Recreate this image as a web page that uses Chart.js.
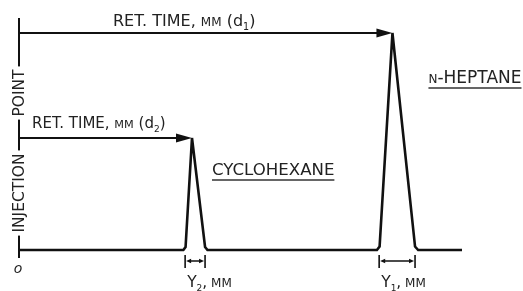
<!DOCTYPE html>
<html>
<head>
<meta charset="utf-8">
<script src="https://cdn.jsdelivr.net/npm/chart.js@4/dist/chart.umd.min.js"></script>
<style>
html,body{margin:0;padding:0;background:#fff;}
#c{display:block;}
</style>
</head>
<body>
<canvas id="c" width="523" height="291"></canvas>
<script>
// ---- data (x: chart length units, y: detector response, % of tallest peak) ----
const peakNames = ['CYCLOHEXANE', 'N-HEPTANE'];
const retentionTime = [39.05, 84.3];   // apex positions (d2, d1)
const peakHeight = [51.6, 100];
const peakStart = [37.5, 81.3];        // base width marker, left
const peakEnd = [42.0, 89.4];          // base width marker, right
const retLabels = ['d2', 'd1'];
const widthLabels = ['2', '1'];
const traceX = [0, 37.1, 37.6, 39.05, 42.0, 42.55, 80.8, 81.4, 84.3, 89.4, 90.1, 100];
const traceY = [0, 0, 1.4, 51.6, 1.4, 0, 0, 1.6, 100, 1.6, 0, 0];

const FONT = '"DejaVu Sans", Verdana, sans-serif';
const INK = '#111';
const TXT = '#222';

function richText(ctx, parts, x, y) {
  let cx = x;
  for (const [t, s, dy] of parts) {
    ctx.font = s + 'px ' + FONT;
    ctx.fillText(t, cx, y + (dy || 0));
    cx += ctx.measureText(t).width;
  }
  return cx - x;
}
function arrowHead(ctx, tipX, y, dir, len, half) {
  ctx.beginPath();
  ctx.moveTo(tipX, y);
  ctx.lineTo(tipX - dir * len, y - half);
  ctx.lineTo(tipX - dir * len, y + half);
  ctx.closePath();
  ctx.fill();
}

const annot = {
  id: 'annot',
  afterDatasetsDraw(chart) {
    const ctx = chart.ctx, xs = chart.scales.x, ys = chart.scales.y;
    const x0 = xs.getPixelForValue(0);
    const base = ys.getPixelForValue(0);
    ctx.save();
    ctx.strokeStyle = INK; ctx.fillStyle = INK;
    ctx.lineCap = 'butt';

    // injection axis
    ctx.lineWidth = 2;
    ctx.beginPath();
    ctx.moveTo(x0, ys.getPixelForValue(106.9));
    ctx.lineTo(x0, base + 8);
    ctx.stroke();

    // rotated axis words with gaps
    ctx.textAlign = 'center'; ctx.textBaseline = 'middle';
    ctx.font = '15.5px ' + FONT;
    [['POINT', base - 157], ['INJECTION', base - 57]].forEach(([t, cy]) => {
      ctx.save();
      ctx.translate(x0, cy);
      ctx.rotate(-Math.PI / 2);
      const w = ctx.measureText(t).width;
      ctx.fillStyle = '#fff';
      ctx.fillRect(-w / 2 - 3, -9, w + 6, 18);
      ctx.fillStyle = TXT;
      ctx.fillText(t, 0, 1);
      ctx.restore();
    });

    // origin mark
    ctx.fillStyle = TXT;
    ctx.font = 'italic 14px ' + FONT;
    ctx.fillText('o', x0 - 1, base + 19);

    // retention arrows
    ctx.textAlign = 'left'; ctx.textBaseline = 'alphabetic';
    const labelLeft = [32, 113];
    const labelRise = [10, 7];
    const labelSize = [15, 16];
    for (let i = 0; i < retentionTime.length; i++) {
      const tx = xs.getPixelForValue(retentionTime[i]);
      const ty = ys.getPixelForValue(peakHeight[i]);
      ctx.strokeStyle = INK; ctx.fillStyle = INK;
      ctx.lineWidth = 2;
      ctx.beginPath();
      ctx.moveTo(x0, ty); ctx.lineTo(tx - 10, ty); ctx.stroke();
      arrowHead(ctx, tx, ty, 1, 16, 4.5);
      ctx.fillStyle = TXT;
      const s = labelSize[i];
      richText(ctx, [['RET. TIME, ', s], ['MM', s * 0.75], [' (d', s], [retLabels[i].slice(1), s * 0.6, 4], [')', s]],
        labelLeft[i], ty - labelRise[i]);
    }

    // peak name labels, underlined
    const nameOff = [[20, 37], [36, 50]];
    for (let i = 0; i < peakNames.length; i++) {
      const tx = xs.getPixelForValue(retentionTime[i]) + nameOff[i][0];
      const ty = ys.getPixelForValue(peakHeight[i]) + nameOff[i][1];
      ctx.fillStyle = TXT;
      let parts;
      if (peakNames[i].startsWith('N-')) parts = [['N', 12], [peakNames[i].slice(1), 17]];
      else parts = [[peakNames[i], 16.6]];
      const w = richText(ctx, parts, tx, ty);
      ctx.strokeStyle = '#333'; ctx.lineWidth = 1.6;
      ctx.beginPath(); ctx.moveTo(tx, ty + 5); ctx.lineTo(tx + w, ty + 5); ctx.stroke();
    }

    // base width markers
    for (let i = 0; i < peakStart.length; i++) {
      const a = xs.getPixelForValue(peakStart[i]);
      const b = xs.getPixelForValue(peakEnd[i]);
      const my = base + 11;
      ctx.strokeStyle = INK; ctx.fillStyle = INK; ctx.lineWidth = 1.6;
      ctx.beginPath();
      ctx.moveTo(a, base + 5); ctx.lineTo(a, base + 18);
      ctx.moveTo(b, base + 5); ctx.lineTo(b, base + 18);
      ctx.moveTo(a + 4, my); ctx.lineTo(b - 4, my);
      ctx.stroke();
      arrowHead(ctx, a + 1, my, -1, 5, 2.2);
      arrowHead(ctx, b - 1, my, 1, 5, 2.2);
      ctx.fillStyle = TXT;
      richText(ctx, [['Y', 15.5], [widthLabels[i], 9, 4], [',', 15.5], [' MM', 12]], a + 2, base + 37);
    }
    ctx.restore();
  }
};

new Chart(document.getElementById('c'), {
  type: 'scatter',
  data: {
    datasets: [{
      data: traceX.map((x, i) => ({ x, y: traceY[i] })),
      showLine: true,
      borderColor: INK,
      borderWidth: 2.6,
      pointRadius: 0,
      tension: 0,
      borderJoinStyle: 'miter',
      clip: false
    }]
  },
  options: {
    responsive: false,
    devicePixelRatio: 1,
    animation: false,
    events: [],
    layout: { padding: { left: 19, right: 61, top: 33, bottom: 41 } },
    plugins: { legend: { display: false }, tooltip: { enabled: false } },
    scales: {
      x: { type: 'linear', min: 0, max: 100, display: false },
      y: { type: 'linear', min: 0, max: 100, display: false }
    }
  },
  plugins: [annot]
});
</script>
</body>
</html>
